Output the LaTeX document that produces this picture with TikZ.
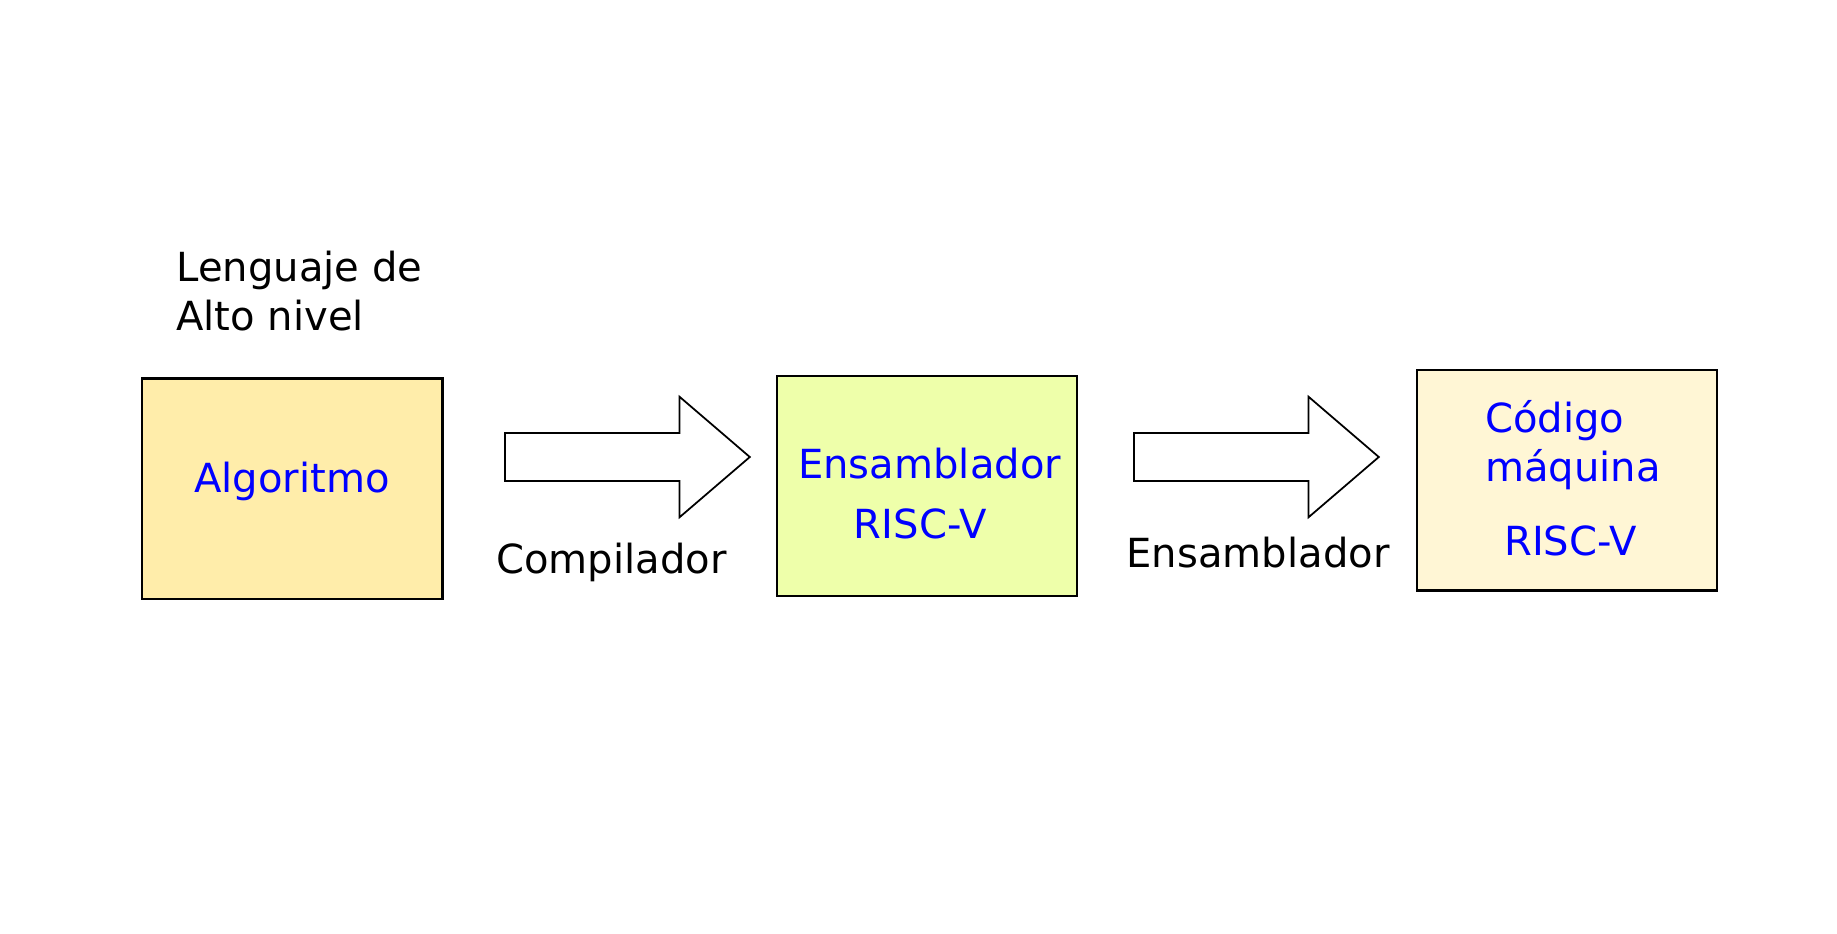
\documentclass[tikz,border=0pt]{standalone}
\usepackage{fontspec}
\setmainfont{DejaVu Sans}
\usepackage{xcolor}
\definecolor{algofill}{HTML}{FFEDAA}
\definecolor{asmfill}{HTML}{EEFFAA}
\definecolor{codefill}{HTML}{FFF6D5}
\tikzset{
    stage/.style={draw,line width=0.6pt,minimum width=3cm,minimum height=2.2cm,inner sep=0},
    txt/.style={font=\fontsize{11.4}{13.9}\selectfont,inner sep=0},
}
\newcommand{\blockArrow}[2] {
    \draw[line width=0.5pt,fill=white]
        (#1,#2-24) -- ++(174.5,0) -- ++(0,-36.3) -- (#1+244.8,#2)
        -- (#1+174.5,#2+60.3) -- ++(0,-36.3) -- (#1,#2+24) -- cycle;
}

\begin{document}
\begin{tikzpicture}[x=0.01cm,y=-0.01cm]
    \useasboundingbox (0,0) rectangle (1837,933);
    \node[txt,anchor=base west,align=left] (lang) at (175.7,330) {Lenguaje de\\Alto nivel};
    \node[stage,fill=algofill] (algo) at (292.4,488.6) {};
    \node[txt,blue,anchor=base] (algoTxt) at (292,492) {Algoritmo};
    \blockArrow{505}{457}
    \node[txt,anchor=base west] (comp) at (495.6,573) {Compilador};
    \node[stage,fill=asmfill] (asm) at (926.8,486.2) {};
    \node[txt,blue,anchor=base] (asmTxt) at (929.6,478) {Ensamblador};
    \node[txt,blue,anchor=base] (asmIsa) at (920.3,538) {RISC-V};
    \blockArrow{1134}{457}
    \node[txt,anchor=base west] (assem) at (1125.9,567) {Ensamblador};
    \node[stage,fill=codefill] (code) at (1567,480.4) {};
    \node[txt,blue,anchor=base west,align=left] (codeTxt) at (1484.4,481) {Código\\máquina};
    \node[txt,blue,anchor=base] (codeIsa) at (1570.5,555) {RISC-V};
\end{tikzpicture}
\end{document}
